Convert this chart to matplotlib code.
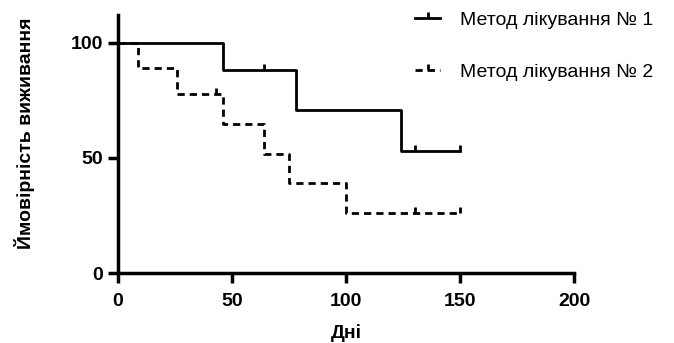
import matplotlib
matplotlib.use("Agg")
import matplotlib.pyplot as plt
from matplotlib.lines import Line2D

plt.rcParams['font.family'] = ['Liberation Sans', 'DejaVu Sans']

# Kaplan-Meier steps, method 1
t1 = [0, 46, 78, 124, 150]
s1 = [100, 88.2, 70.6, 52.9, 52.9]
cens1_t = [64, 130, 150]
cens1_s = [88.2, 52.9, 52.9]

# method 2
t2 = [0, 9, 26, 46, 64, 75, 100, 150]
s2 = [100, 88.9, 77.8, 64.8, 51.9, 38.9, 25.9, 25.9]
cens2_t = [43, 130, 150]
cens2_s = [77.8, 25.9, 25.9]

labels = ["Метод лікування № 1", "Метод лікування № 2"]
xticks = [0, 50, 100, 150, 200]
yticks = [0, 50, 100]

fig = plt.figure(figsize=(6.74, 3.43), dpi=100)
ax = fig.add_axes([0.175, 0.204, 0.677, 0.752])

dash = (0, (2.6, 1.8))
ax.step(t1, s1, where='post', color='k', lw=2)
ax.plot(cens1_t, cens1_s, ls='none', marker=2, ms=4, mew=2, color='k')
ax.step(t2, s2, where='post', color='k', lw=2, ls=dash)
ax.plot(cens2_t, cens2_s, ls='none', marker=2, ms=4, mew=2, color='k')

ax.set_xlim(0, 200)
ax.set_ylim(0, 112)
ax.set_xticks(xticks)
ax.set_yticks(yticks)
for side in ['top', 'right']:
    ax.spines[side].set_visible(False)
for side in ['left', 'bottom']:
    ax.spines[side].set_linewidth(2.5)
ax.tick_params(width=2.5, length=7.5, labelsize=14)
ax.tick_params(axis='x', pad=7)
ax.tick_params(axis='y', pad=3)
for lbl in ax.get_xticklabels() + ax.get_yticklabels():
    lbl.set_fontweight('bold')

ax.set_xlabel("Дні", fontsize=14, fontweight='bold')
ax.set_ylabel("Ймовірність виживання", fontsize=14, fontweight='bold')
ax.xaxis.set_label_coords(0.5, -0.2)
ax.yaxis.set_label_coords(-0.182, 0.543)

handles = [
    Line2D([], [], color='k', lw=2, marker=2, ms=4, mew=2),
    Line2D([], [], color='k', lw=2, ls=dash, marker=2, ms=4, mew=2),
]
fig.legend(handles, labels, loc='upper left', bbox_to_anchor=(415 / 674, 0.968),
           frameon=False, fontsize=14, handlelength=1.3, handletextpad=1.0,
           labelspacing=1.78, borderpad=0, borderaxespad=0)

fig.savefig("out.png", dpi=100)
